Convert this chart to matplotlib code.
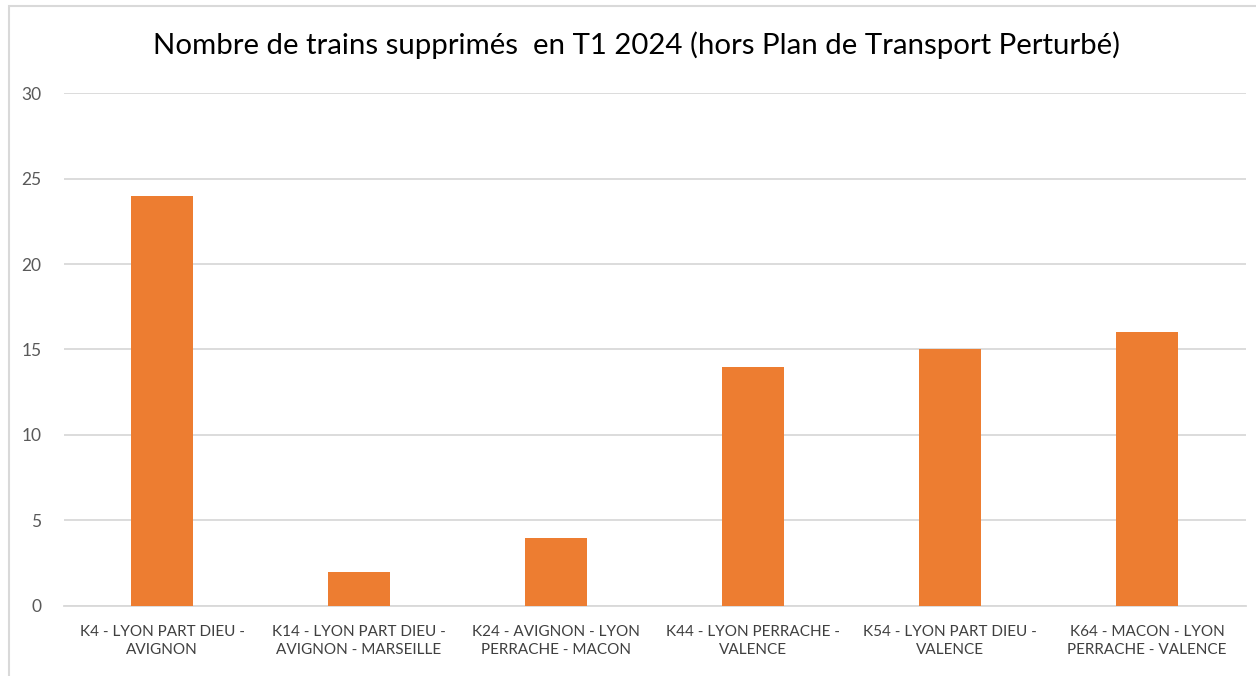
import matplotlib.pyplot as plt
from matplotlib.patches import Rectangle

plt.rcParams['font.family'] = ['Lato', 'DejaVu Sans']

# Data
lignes = [
    "K4 - LYON PART DIEU -\nAVIGNON",
    "K14 - LYON PART DIEU -\nAVIGNON - MARSEILLE",
    "K24 - AVIGNON - LYON\nPERRACHE - MACON",
    "K44 - LYON PERRACHE -\nVALENCE",
    "K54 - LYON PART DIEU -\nVALENCE",
    "K64 - MACON - LYON\nPERRACHE - VALENCE",
]
supprimes = [24, 2, 4, 14, 15, 16]
y_ticks = [0, 5, 10, 15, 20, 25, 30]

fig = plt.figure(figsize=(12.56, 6.76), dpi=100)
# chart border (Excel style)
fig.patches.append(Rectangle((9 / 1256, -0.1), 1.2, 1 - 6 / 676 + 0.1,
                             transform=fig.transFigure, fill=False,
                             edgecolor='#D9D9D9', linewidth=1.5))

ax = fig.add_axes([0.0506, 0.1036, 0.9411, 0.7588])
x = range(len(lignes))
ax.bar(x, supprimes, width=0.315, color='#ED7D31', zorder=3)

ax.set_ylim(0, 30)
ax.set_xlim(-0.5, len(lignes) - 0.5)
ax.set_yticks(y_ticks)
ax.set_xticks(list(x))
ax.set_xticklabels(lignes, fontsize=11, color='#404040', linespacing=1.35)
ax.tick_params(axis='y', labelsize=12.5, labelcolor='#595959', length=0, pad=16)
ax.tick_params(axis='x', length=0, pad=14)
ax.grid(axis='y', color='#D9D9D9', linewidth=1.3, zorder=0)
for s in ['top', 'right', 'left']:
    ax.spines[s].set_visible(False)
ax.spines['bottom'].set_color('#D9D9D9')
ax.spines['bottom'].set_linewidth(1.3)

fig.text(0.507, 0.933, "Nombre de trains supprimés  en T1 2024 (hors Plan de Transport Perturbé)",
         ha='center', va='center', fontsize=21.2, color='#000000')

fig.savefig('out.png', dpi=100)
